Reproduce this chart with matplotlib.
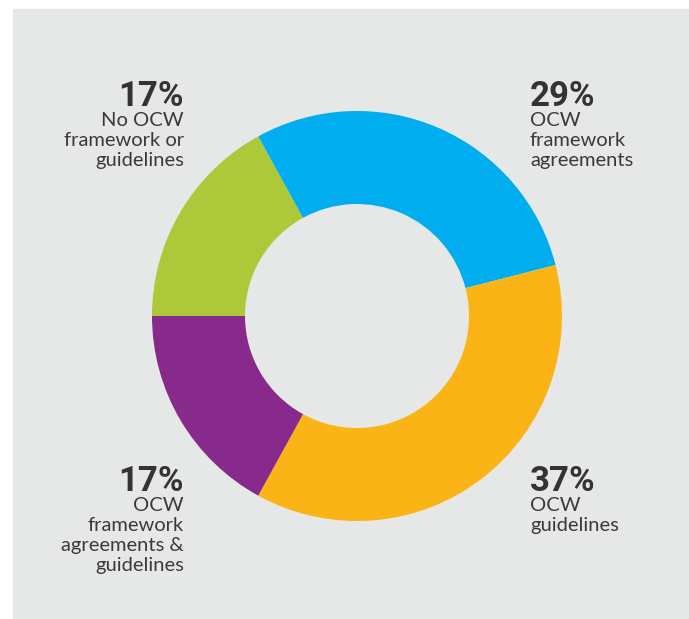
import matplotlib.pyplot as plt

# share of institutions by type of OCW policy
labels = ['No OCW\nframework or\nguidelines',
          'OCW\nframework\nagreements',
          'OCW\nguidelines',
          'OCW\nframework\nagreements &\nguidelines']
shares = [17, 29, 37, 17]
colors = ['#adc93a', '#00aeef', '#fbb416', '#872a8c']

W, H = 689, 619
fig = plt.figure(figsize=(W / 100, H / 100), dpi=100)
fig.patch.set_color('white')
ax = fig.add_axes([0, 0, 1, 1])

# grey panel behind the chart
ax.add_patch(plt.Rectangle((13, 0), W - 13, H - 9, color='#e6e7e7', zorder=0))

cx, cy, r = 357, H - 316, 205
ax.pie(shares, colors=colors, startangle=180, counterclock=False,
       center=(cx, cy), radius=r, frame=True,
       wedgeprops=dict(width=93, linewidth=0))
ax.set_xlim(0, W)
ax.set_ylim(0, H)
ax.set_aspect('auto')
ax.axis('off')

# label anchors: (x, baseline of percentage in px from top, alignment)
spots = [(184, 106, 'right'), (530, 106, 'left'),
         (530, 491, 'left'), (184, 491, 'right')]
for (x, yb, ha), pct, lab in zip(spots, shares, labels):
    ax.text(x, H - yb, f'{pct}%', ha=ha, va='baseline',
            fontsize=25, fontweight='bold', color='#333333', family='Roboto')
    ax.text(x, H - yb - 6, lab, ha=ha, va='top', multialignment=ha,
            fontsize=14.5, color='#3a3a3a', family='Lato', linespacing=1.22)

fig.savefig('out.png', dpi=100)
